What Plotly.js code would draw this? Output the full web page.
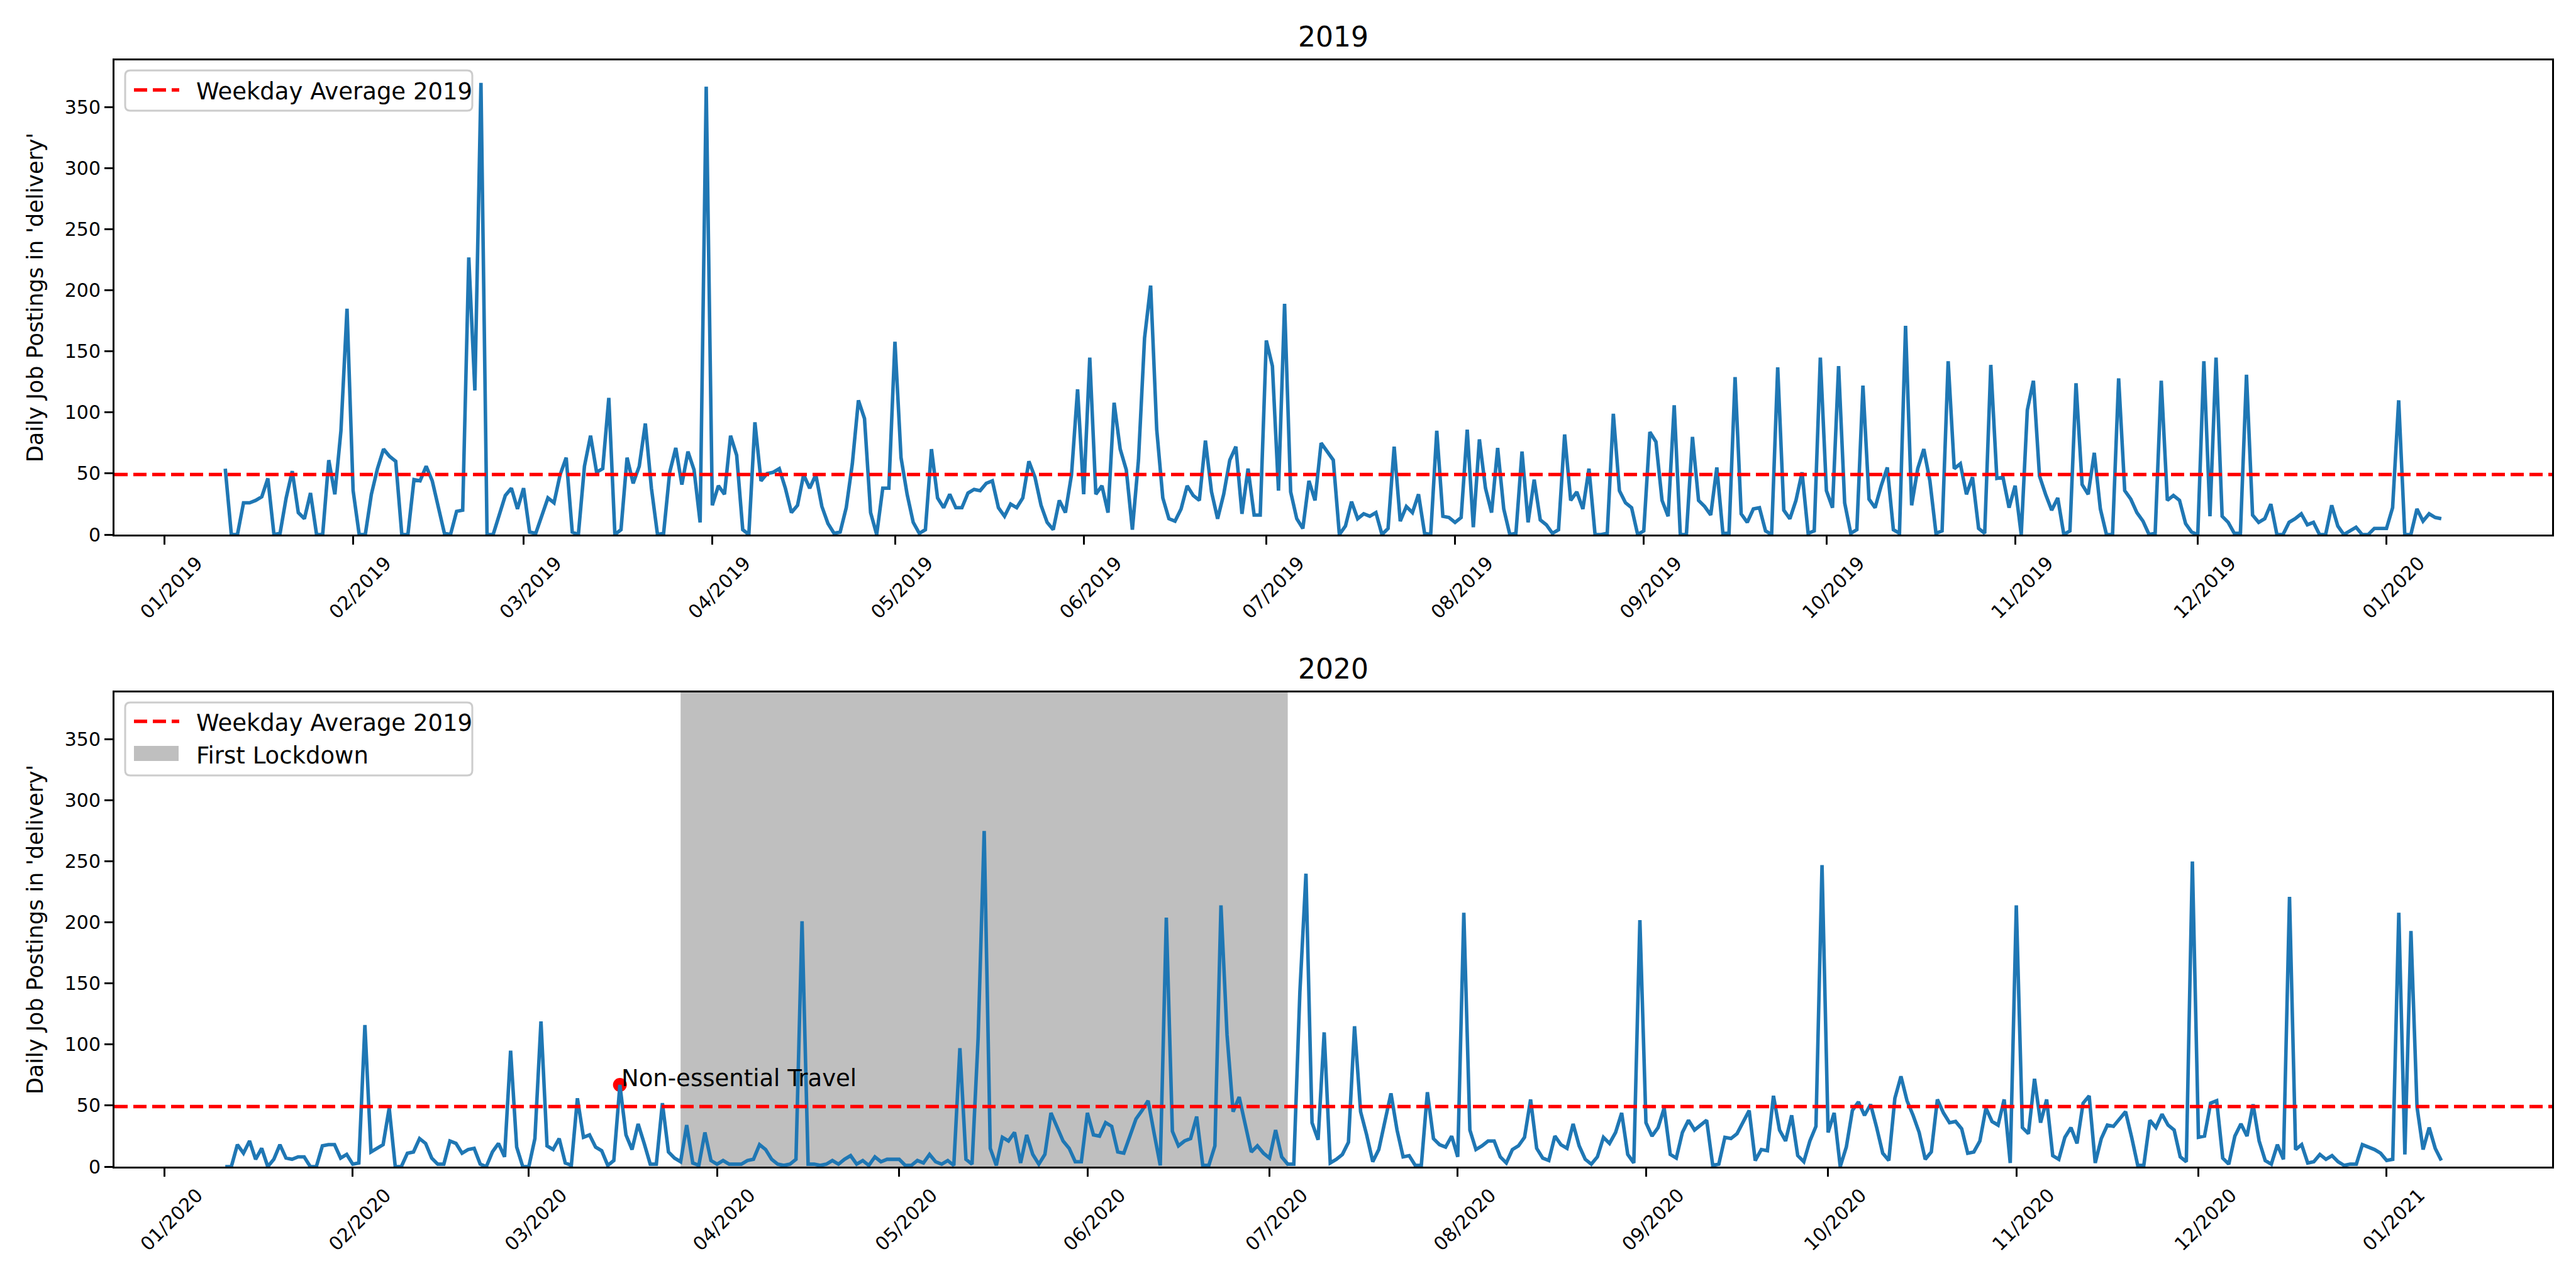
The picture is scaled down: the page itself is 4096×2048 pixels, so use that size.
<!DOCTYPE html>
<html>
<head>
<meta charset="utf-8">
<script src="https://cdn.plot.ly/plotly-3.0.1.min.js"></script>
<style>html,body{margin:0;padding:0;background:#fff;}</style>
</head>
<body>
<div id="chart" style="width:4096px;height:2048px;"></div>
<script>
// ---------------- DATA ----------------
const start2019 = '2019-01-11';
const start2020 = '2020-01-11';

const values2019 = [
  54, 0, 0, 26, 26, 28, 31, 46, 0, 1,
  30, 52, 18, 13, 34, 0, 0, 61, 33, 85,
  185, 36, 0, 0, 33, 54, 70, 64, 60, 0,
  0, 45, 44, 56, 44, 22, 1, 0, 19, 20,
  227, 118, 370, 0, 0, 16, 32, 38, 21, 38,
  2, 1, 15, 30, 26, 49, 63, 2, 0, 56,
  81, 51, 54, 112, 0, 4, 63, 42, 56, 91,
  38, 0, 1, 51, 71, 41, 68, 53, 10, 367,
  24, 40, 33,
  81, 65, 4, 0, 92, 44, 50, 51, 54, 38,
  18, 24, 49, 38, 49, 23, 9, 1, 2, 22,
  58, 110, 95, 18, 0, 38, 38, 158, 63, 33,
  10, 1, 4, 70, 30, 22, 33, 22, 22, 34,
  37, 36, 42, 44, 22, 15, 25, 22, 30, 60,
  47, 24, 10, 4, 28, 18, 49, 119, 33, 145,
  33, 40, 18, 108, 70, 53, 4, 61, 161, 204,
  86, 30, 13, 11, 21, 40, 32, 28, 77, 35,
  13, 33, 61, 72, 17, 54, 16, 16, 159, 138,
  36, 189, 35, 13, 5, 44, 28, 75, 68,
  61, 0, 7, 27, 13, 17, 15, 18, 0, 5,
  72, 11, 23, 18, 33, 1, 0, 85, 15, 14,
  10, 14, 86, 6, 78, 38, 18, 71, 21, 0,
  1, 68, 10, 45, 12, 8, 1, 4, 82, 28,
  35, 21, 54, 0, 0, 1, 99, 36, 26, 22,
  0, 3, 84, 76, 28, 15, 106, 0, 0, 80,
  28, 23, 16, 55, 1, 1, 129, 17, 10, 21,
  22, 3, 0, 137, 20, 13, 28, 51, 1, 3,
  145, 36, 22, 138, 26, 1, 4, 122, 29, 22,
  40, 55, 4, 1, 171, 24, 54, 70, 44, 1,
  3,
  142, 54, 58, 33, 47, 5, 1, 139, 46, 47,
  22, 40, 0, 102, 126, 48, 33, 20, 30, 0,
  3, 124, 41, 33, 67, 21, 0, 0, 128, 36,
  29, 18, 11, 0, 1, 126, 28, 32, 28, 9,
  2, 0, 142, 15, 145, 15, 10, 1, 1, 131,
  16, 10, 13, 25, 0, 0, 10, 13, 17, 8,
  10, 0, 0, 24, 7, 0, 3, 6, 0, 0,
  5, 5, 5, 22, 110, 0, 0, 21, 11, 17,
  14, 13
];

const values2020 = [
  0, 0, 18, 11, 21, 6, 15, 0, 6, 18,
  7, 6, 8, 8, 0, 0, 17, 18, 18, 7,
  10, 2, 3, 116, 12, 15, 18, 48, 0, 0,
  11, 12, 23, 19, 7, 2, 2, 21, 19, 11,
  14, 15, 2, 0, 12, 19, 8, 95, 16, 0,
  0, 23, 119, 17, 14, 23, 3, 1, 56, 24,
  26, 16, 13, 1, 5, 67, 26, 14, 35, 19,
  2, 2, 52, 12, 7, 4, 34, 3, 1, 28,
  5, 2, 5, 2, 2, 2,
  5, 6, 18, 14, 6, 2, 1, 2, 6, 201,
  2, 2, 1, 2, 5, 2, 6, 9, 2, 5,
  1, 8, 4, 6, 6, 6, 1, 1, 5, 3,
  10, 4, 2, 5, 1, 97, 6, 2, 105, 275,
  15, 1, 24, 21, 28, 3, 26, 10, 2, 10,
  44, 32, 21, 15, 4, 4, 44, 26, 25, 36,
  33, 12, 11, 25, 39, 46, 54, 27, 1, 204,
  29, 17, 21, 23, 41, 1, 1, 17, 214, 108,
  45, 57, 34, 12, 17, 11, 7, 30, 8, 2,
  2, 143, 240, 36, 22, 110, 3, 6, 10, 20,
  115, 45, 26, 4, 14, 38, 60, 30, 8, 9,
  1, 1, 61, 23, 18, 16, 25, 8, 208, 30,
  14, 17, 21, 21, 8, 3, 14, 17, 24, 55,
  15, 7, 5, 25, 18, 15, 35, 17, 6, 2,
  8, 24, 19, 28, 44, 10, 3, 202, 36, 25,
  32, 48, 10, 7, 28, 38, 30, 34, 38, 1,
  2, 24, 23, 27, 36, 46, 5, 14, 13, 58,
  30, 21, 42, 9, 4, 21, 33, 247, 28, 44,
  0, 16, 46, 53, 42, 51, 32, 11, 5, 56,
  74, 54, 42, 28, 6, 12, 55, 44, 36, 37,
  31, 11, 12, 21, 48, 37, 34, 55, 3, 214,
  32, 27, 72, 36, 55, 9, 6, 24, 32, 19,
  52, 58, 3, 23, 34, 33, 39, 45, 24, 1,
  1, 38, 32, 43, 34, 30, 8, 4, 250, 24,
  25, 52, 54, 7, 2, 25, 35, 25, 51, 21,
  5, 2, 18, 6, 221, 14, 18, 3, 4, 10,
  6, 9, 4, 1, 2, 2, 18, 16, 14, 11,
  5, 6, 208, 10, 193, 49, 14, 32, 15, 5
];

const weekdayAverage2019 = 49.2;
const lockdownStart = '2020-03-26';
const lockdownEnd = '2020-07-04';
const eventDates = ['2020-03-16'];
const eventValues = [67];
const eventLabels = ['Non-essential Travel'];
const yTickValues = [0, 50, 100, 150, 200, 250, 300, 350];
const panelTitles = ['2019', '2020'];
const yAxisTitle = "Daily Job Postings in 'delivery'";
const avgLabel = 'Weekday Average 2019';
const lockdownLabel = 'First Lockdown';

// ---------------- HELPERS ----------------
const DAY = 86400000;
function pad2(n){ return (n < 10 ? '0' : '') + n; }
function fmt(ms){
  const d = new Date(ms);
  return d.getUTCFullYear() + '-' + pad2(d.getUTCMonth()+1) + '-' + pad2(d.getUTCDate()) +
    ' ' + pad2(d.getUTCHours()) + ':' + pad2(d.getUTCMinutes()) + ':' + pad2(d.getUTCSeconds());
}
function dailyDates(start, n){
  const t0 = Date.parse(start + 'T00:00:00Z');
  const out = [];
  for (let i = 0; i < n; i++) out.push(fmt(t0 + i*DAY).slice(0,10));
  return out;
}
function paddedRange(dates){
  const a = Date.parse(dates[0] + 'T00:00:00Z');
  const b = Date.parse(dates[dates.length-1] + 'T00:00:00Z');
  const p = (b - a) * 0.05;
  return [fmt(a - p), fmt(b + p)];
}

const dates2019 = dailyDates(start2019, values2019.length);
const dates2020 = dailyDates(start2020, values2020.length);
const yMax = Math.max(...values2019, ...values2020) * 1.05;

// ---------------- STYLE ----------------
const FONT = 'DejaVu Sans';
const W = 4096, H = 2048;
const px = v => v / W;          // pixel -> paper x
const py = v => 1 - v / H;      // pixel -> paper y
const xDom = [px(182), px(4058)];
const yDomTop = [py(850), py(96)];
const yDomBot = [py(1855), py(1101)];

const axisCommon = {
  showline: true, linecolor: '#000', linewidth: 3, mirror: true,
  ticks: 'outside', ticklen: 13, tickwidth: 3, tickcolor: '#000',
  showgrid: false, zeroline: false,
  tickfont: {family: FONT, size: 30, color: '#000'}
};
function xAxis(anchor, range, tick0){
  return Object.assign({}, axisCommon, {
    type: 'date', domain: xDom, anchor: anchor, range: range,
    tickmode: 'linear', tick0: tick0, dtick: 'M1', tickformat: '%m/%Y',
    tickangle: -45, ticklabelshift: 52
  });
}
function yAxis(anchor, dom){
  return Object.assign({}, axisCommon, {
    domain: dom, anchor: anchor, range: [0, yMax],
    tickmode: 'array', tickvals: yTickValues, ticktext: yTickValues.map(String),
    title: {text: yAxisTitle, font: {family: FONT, size: 35, color: '#000'}, standoff: 24}
  });
}

const lineStyle = {color: '#1f77b4', width: 5.6};
const avgLine = {color: '#ff0000', width: 5.6, dash: '21px,9px'};
const shadeColor = 'rgba(128,128,128,0.5)';

const data = [
  {type: 'scatter', mode: 'lines', x: dates2019, y: values2019, xaxis: 'x', yaxis: 'y',
   line: lineStyle, showlegend: false, hoverinfo: 'skip'},
  {type: 'scatter', mode: 'markers', x: eventDates, y: eventValues, xaxis: 'x2', yaxis: 'y2',
   marker: {color: '#ff0000', size: 22, line: {width: 0}}, showlegend: false, hoverinfo: 'skip'},
  {type: 'scatter', mode: 'lines', x: dates2020, y: values2020, xaxis: 'x2', yaxis: 'y2',
   line: lineStyle, showlegend: false, hoverinfo: 'skip'}
];

// rounded legend frame (pixel box -> paper path)
function roundedBox(x0, y0, x1, y1, r){
  const X = v => px(v).toFixed(6), Y = v => py(v).toFixed(6);
  return 'M' + X(x0+r) + ',' + Y(y0) +
    ' L' + X(x1-r) + ',' + Y(y0) + ' Q' + X(x1) + ',' + Y(y0) + ' ' + X(x1) + ',' + Y(y0+r) +
    ' L' + X(x1) + ',' + Y(y1-r) + ' Q' + X(x1) + ',' + Y(y1) + ' ' + X(x1-r) + ',' + Y(y1) +
    ' L' + X(x0+r) + ',' + Y(y1) + ' Q' + X(x0) + ',' + Y(y1) + ' ' + X(x0) + ',' + Y(y1-r) +
    ' L' + X(x0) + ',' + Y(y0+r) + ' Q' + X(x0) + ',' + Y(y0) + ' ' + X(x0+r) + ',' + Y(y0) + ' Z';
}
function legendFrame(x0, y0, x1, y1){
  return {type: 'path', xref: 'paper', yref: 'paper', path: roundedBox(x0, y0, x1, y1, 8),
          fillcolor: 'rgba(255,255,255,0.8)', line: {color: '#cccccc', width: 3}, layer: 'above'};
}
function legendLine(x0, x1, yc){
  return {type: 'line', xref: 'paper', yref: 'paper', x0: px(x0), x1: px(x1), y0: py(yc), y1: py(yc),
          line: avgLine, layer: 'above'};
}
function legendPatch(x0, y0, x1, y1){
  return {type: 'rect', xref: 'paper', yref: 'paper', x0: px(x0), x1: px(x1), y0: py(y1), y1: py(y0),
          fillcolor: shadeColor, line: {width: 0}, layer: 'above'};
}
function legendText(text, x, yc){
  return {text: text, xref: 'paper', yref: 'paper', x: px(x), y: py(yc), xanchor: 'left', yanchor: 'middle',
          showarrow: false, borderpad: 0, font: {family: FONT, size: 37, color: '#000'}};
}

const layout = {
  width: W, height: H,
  margin: {l: 0, r: 0, t: 0, b: 0},
  paper_bgcolor: '#fff', plot_bgcolor: '#fff',
  font: {family: FONT, color: '#000'},
  showlegend: false,
  xaxis: xAxis('y', paddedRange(dates2019), '2019-01-01'),
  yaxis: yAxis('x', yDomTop),
  xaxis2: xAxis('y2', paddedRange(dates2020), '2020-01-01'),
  yaxis2: yAxis('x2', yDomBot),
  shapes: [
    {type: 'rect', xref: 'x2', yref: 'y2 domain', x0: lockdownStart, x1: lockdownEnd, y0: 0, y1: 1,
     fillcolor: shadeColor, line: {width: 0}, layer: 'below'},
    {type: 'line', xref: 'x domain', yref: 'y', x0: 0, x1: 1, y0: weekdayAverage2019, y1: weekdayAverage2019,
     line: avgLine, layer: 'above'},
    {type: 'line', xref: 'x2 domain', yref: 'y2', x0: 0, x1: 1, y0: weekdayAverage2019, y1: weekdayAverage2019,
     line: avgLine, layer: 'above'},
    // legend 2019
    legendFrame(199, 112, 751, 176),
    legendLine(213, 285, 143),
    // legend 2020
    legendFrame(199, 1117, 751, 1233),
    legendLine(213, 285, 1147),
    legendPatch(213, 1186, 284, 1210)
  ],
  annotations: [
    {text: panelTitles[0], xref: 'paper', yref: 'paper', x: (xDom[0]+xDom[1])/2, y: py(58),
     xanchor: 'center', yanchor: 'middle', showarrow: false, font: {family: FONT, size: 44, color: '#000'}},
    {text: panelTitles[1], xref: 'paper', yref: 'paper', x: (xDom[0]+xDom[1])/2, y: py(1063),
     xanchor: 'center', yanchor: 'middle', showarrow: false, font: {family: FONT, size: 44, color: '#000'}},
    {text: eventLabels[0], xref: 'x2', yref: 'y2', x: eventDates[0], y: eventValues[0],
     xanchor: 'left', yanchor: 'bottom', yshift: -13, showarrow: false,
     font: {family: FONT, size: 37, color: '#000'}},
    legendText(avgLabel, 311, 145),
    legendText(avgLabel, 311, 1149),
    legendText(lockdownLabel, 311, 1201)
  ]
};

Plotly.newPlot('chart', data, layout, {staticPlot: true, responsive: false});
</script>
</body>
</html>
